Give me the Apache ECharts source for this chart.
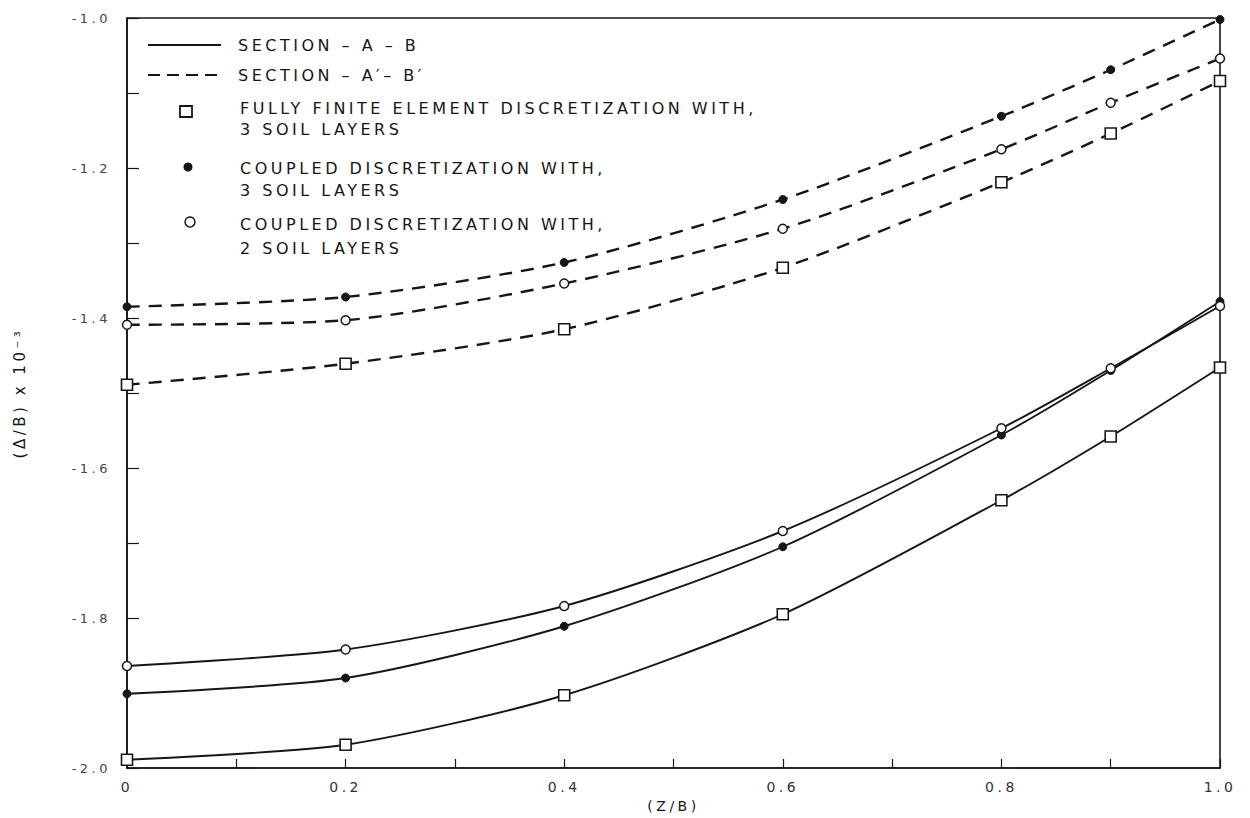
<!DOCTYPE html>
<html><head><meta charset="utf-8">
<script src="https://cdn.jsdelivr.net/npm/echarts@6/dist/echarts.min.js"></script>
<style>
html,body{margin:0;padding:0;background:#fff;}
#chart{width:1250px;height:818px;}
#chart svg text{letter-spacing:3.5px;}
</style></head><body><div id="chart"></div>
<script>
// x positions (Z/B)
const zb = [0, 0.2, 0.4, 0.6, 0.8, 0.9, 1.0];
// Section A-B (solid lines)
const abFE3      = [-1.989, -1.969, -1.903, -1.795, -1.643, -1.558, -1.466];
const abCoupled3 = [-1.901, -1.880, -1.811, -1.705, -1.556, -1.470, -1.378];
const abCoupled2 = [-1.864, -1.842, -1.784, -1.684, -1.547, -1.467, -1.384];
// Section A'-B' (dashed lines)
const apFE3      = [-1.489, -1.461, -1.415, -1.333, -1.219, -1.154, -1.084];
const apCoupled3 = [-1.385, -1.372, -1.326, -1.242, -1.131, -1.069, -1.002];
const apCoupled2 = [-1.409, -1.403, -1.354, -1.281, -1.175, -1.113, -1.054];
// axis
const xMin = 0, xMax = 1.0, xStep = 0.2;
const yMin = -2.0, yMax = -1.0, yStep = 0.2;
const xName = '(Z/B)';
const yName = '(\u0394/B) x 10\u207B\u00B3';
// legend texts
const legendLines = ['SECTION \u2013 A \u2013 B', 'SECTION \u2013 A\u2032\u2013 B\u2032'];
const legendMarkers = [
  ['FULLY FINITE ELEMENT DISCRETIZATION WITH,', '3 SOIL LAYERS'],
  ['COUPLED DISCRETIZATION WITH,', '3 SOIL LAYERS'],
  ['COUPLED DISCRETIZATION WITH,', '2 SOIL LAYERS']
];

const INK = '#161616';
const FONT = 'DejaVu Sans';
const pairs = arr => zb.map((x, i) => [x, arr[i]]);

const markerStyles = {
  fe:  {symbol: 'rect', symbolSize: 11, itemStyle: {color: '#fff', borderColor: INK, borderWidth: 1.6}},
  c3:  {symbol: 'circle', symbolSize: 8, itemStyle: {color: INK, borderColor: INK, borderWidth: 1}},
  c2:  {symbol: 'circle', symbolSize: 9, itemStyle: {color: '#fff', borderColor: INK, borderWidth: 1.5}}
};
function mk(name, arr, dashed, mkType) {
  const m = markerStyles[mkType];
  return {
    name, type: 'line', data: pairs(arr), smooth: 0.25,
    symbol: m.symbol, symbolSize: m.symbolSize, itemStyle: m.itemStyle, showAllSymbol: true,
    clip: false,
    lineStyle: {color: INK, width: dashed ? 2.4 : 1.9, type: dashed ? [13, 9] : 'solid'},
    z: 3
  };
}

const series = [
  mk("A-B FE 3 layers", abFE3, false, 'fe'),
  mk("A-B coupled 3 layers", abCoupled3, false, 'c3'),
  mk("A-B coupled 2 layers", abCoupled2, false, 'c2'),
  mk("A'-B' FE 3 layers", apFE3, true, 'fe'),
  mk("A'-B' coupled 3 layers", apCoupled3, true, 'c3'),
  mk("A'-B' coupled 2 layers", apCoupled2, true, 'c2')
];

// legend built as graphic
const g = [];
const textStyle = (t, x, y) => ({type: 'text', style: {text: t, x, y, fill: INK, font: '16px "' + FONT + '"', verticalAlign: 'middle', align: 'left'}, z: 10});
const lineYs = [45, 75];
legendLines.forEach((t, i) => {
  g.push({type: 'line', shape: {x1: 148, y1: lineYs[i], x2: 221, y2: lineYs[i]},
    style: {stroke: INK, lineWidth: 2, lineDash: i === 0 ? null : [12, 7]}, z: 10});
  g.push(textStyle(t, 238, lineYs[i]));
});
const mkYs = [[108, 129], [168, 190], [224, 248]];
g.push({type: 'rect', shape: {x: 180, y: 106, width: 12, height: 11}, style: {fill: '#fff', stroke: INK, lineWidth: 1.8}, z: 10});
g.push({type: 'circle', shape: {cx: 188, cy: 167, r: 4.5}, style: {fill: INK}, z: 10});
g.push({type: 'circle', shape: {cx: 190, cy: 222, r: 5}, style: {fill: '#fff', stroke: INK, lineWidth: 1.5}, z: 10});
legendMarkers.forEach((lines, i) => {
  lines.forEach((t, j) => g.push(textStyle(t, 240, mkYs[i][j])));
});

const chart = echarts.init(document.getElementById('chart'), null, {renderer: 'svg'});
chart.setOption({
  backgroundColor: '#fff',
  animation: false,
  grid: {left: 127, right: 30, top: 18, bottom: 50, show: true, borderColor: INK, borderWidth: 1.6, backgroundColor: 'transparent'},
  xAxis: {
    type: 'value', min: xMin, max: xMax, interval: xStep,
    name: xName, nameLocation: 'middle', nameGap: 28,
    nameTextStyle: {fontSize: 14, color: INK, fontFamily: FONT},
    axisLine: {show: true, lineStyle: {color: INK, width: 1.6}},
    axisTick: {show: true, inside: true, length: 9, lineStyle: {color: INK, width: 1.2}},
    minorTick: {show: true, splitNumber: 2, length: 9, lineStyle: {color: INK, width: 1.2}},
    splitLine: {show: false},
    axisLabel: {fontSize: 14, color: '#333', fontFamily: FONT, margin: 12,
      formatter: v => (Math.abs(v) < 1e-9 ? '0' : v.toFixed(1))}
  },
  yAxis: {
    type: 'value', min: yMin, max: yMax, interval: yStep,
    name: yName, nameLocation: 'middle', nameGap: 100, nameRotate: 90,
    nameTextStyle: {fontSize: 15, color: INK, fontFamily: FONT},
    axisLine: {show: true, lineStyle: {color: INK, width: 1.6}},
    axisTick: {show: true, inside: true, length: 12, lineStyle: {color: INK, width: 1.2}},
    minorTick: {show: true, splitNumber: 2, length: 12, lineStyle: {color: INK, width: 1.2}},
    splitLine: {show: false},
    axisLabel: {fontSize: 13, color: '#444', fontFamily: FONT, margin: 16,
      formatter: v => v.toFixed(1)}
  },
  graphic: g,
  series
});
</script></body></html>
